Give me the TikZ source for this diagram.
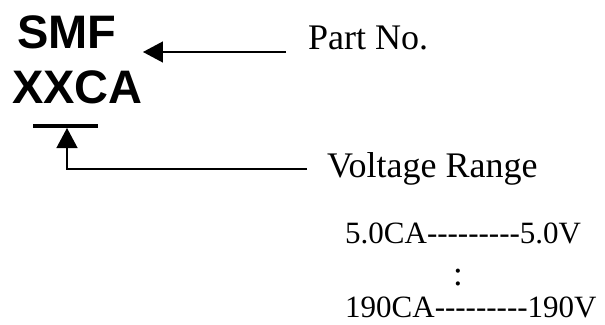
\documentclass[tikz,border=0pt]{standalone}
\usepackage{fontspec}
\setmainfont{Liberation Serif}
\newfontfamily\arialfont{Liberation Sans}
\usetikzlibrary{arrows.meta}
\newcommand{\dashrun}{-\kern0pt-\kern0pt-\kern0pt-\kern0pt-\kern0pt-\kern0pt-\kern0pt-\kern0pt-}
\tikzset{
	codetext/.style={inner sep=0pt, anchor=base west, font=\arialfont\bfseries\fontsize{47}{50}\selectfont},
	tagtext/.style={inner sep=0pt, anchor=base west, font=\fontsize{36}{40}\selectfont},
	rangetext/.style={inner sep=0pt, anchor=base west, font=\fontsize{31}{34}\selectfont},
	pointer/.style={line width=1.3pt, -{Triangle[length=20pt,width=21pt]}}
}
\begin{document}
\begin{tikzpicture}[x=1pt,y=-1pt]
			\useasboundingbox (0,0) rectangle (605,324);
			% part code
			\node [codetext] (smf) at (17,48) {SMF};
			\node [codetext] (xxca) at (12,103) {XXCA};
			\draw [line width=3.5pt] (33,126) coordinate (barl) -- (98,126) coordinate (barr);
			% labels
			\node [tagtext] (partno) at (308,49) {Part No.};
			\node [tagtext] (vrange) at (327,177) {Voltage Range};
			\draw [pointer] ([xshift=-22pt,yshift=-3pt]partno.base west) -- (xxca.east |- 0,52);
			\coordinate (corner) at (67,169);
			\draw [pointer] ([xshift=-20pt,yshift=8pt]vrange.base west) -- (corner) -- (67,128);
			% voltage table
			\node [rangetext] (first) at (345,243) {5.0CA\dashrun5.0V};
			\node [rangetext, anchor=base, font=\fontsize{35}{38}\selectfont] (dots) at (458,285) {:};
			\node [rangetext] (last) at (345,317) {190CA\dashrun190V};
        \end{tikzpicture}
\end{document}
